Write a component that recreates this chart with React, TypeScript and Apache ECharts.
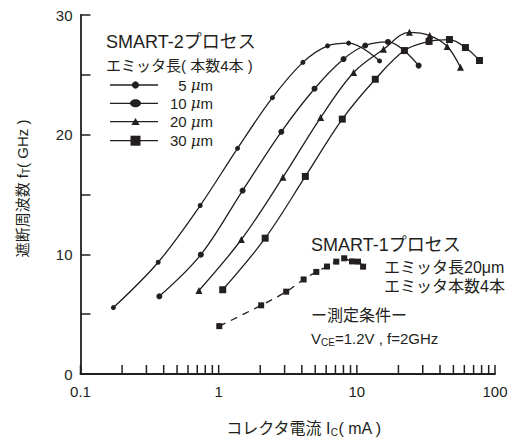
import React, { useEffect, useRef } from "react";
import * as echarts from "echarts";

const FONT = "'Liberation Sans', Arial, 'Noto Sans CJK JP', sans-serif";
const INK = "#231f20";

// axis ticks / labels
const xTickValues = [
  0.1, 0.2, 0.3, 0.4, 0.5, 0.6, 0.7, 0.8, 0.9,
  1, 2, 3, 4, 5, 6, 7, 8, 9,
  10, 20, 30, 40, 50, 60, 70, 80, 90, 100,
];

// SMART-2, emitter length 5 um
const s5x = [0.173, 0.365, 0.735, 1.37, 2.45, 4.07, 6.14, 8.72, 14.6];
const s5y = [5.55, 9.34, 14.08, 18.86, 23.09, 26.04, 27.42, 27.65, 26.16];
// 10 um
const s10x = [0.372, 0.743, 1.49, 2.84, 4.94, 8.02, 11.5, 16.8, 28.0];
const s10y = [6.49, 9.97, 15.33, 20.24, 23.84, 26.32, 27.45, 27.75, 25.77];
// 20 um
const s20x = [0.72, 1.46, 2.92, 5.47, 9.48, 15.6, 24.0, 33.7, 45.1, 56.2];
const s20y = [6.98, 11.24, 16.45, 21.43, 25.2, 27.14, 28.55, 28.28, 27.37, 25.63];
// 30 um
const s30x = [1.07, 2.17, 4.24, 7.85, 13.6, 22.1, 33.3, 46.8, 61.1, 77.2];
const s30y = [7.04, 11.35, 16.51, 21.3, 24.63, 27.03, 27.79, 27.95, 27.28, 26.2];
// SMART-1
const s1x = [1.01, 2.03, 3.08, 4.12, 5.09, 6.08, 7.1, 8.1, 9.23, 10.2, 11.1];
const s1y = [4.0, 5.74, 6.88, 7.9, 8.53, 8.98, 9.39, 9.67, 9.41, 9.39, 8.97];

const legendNums = ["5", "10", "20", "30"];

const zip = (xs: number[], ys: number[]) => xs.map((x, i) => [x, ys[i]]);

const richBase = {
  m: { fontSize: 16, lineHeight: 18, fontFamily: FONT, color: INK },
  s: { fontSize: 10, lineHeight: 10, verticalAlign: "bottom", fontFamily: FONT, color: INK },
};

function txt(x: number, y: number, text: string, size: number, align = "left", rich?: any) {
  return {
    type: "text",
    x,
    y,
    silent: true,
    style: {
      text,
      fontSize: size,
      fontFamily: FONT,
      fill: INK,
      align,
      verticalAlign: "middle",
      textAlign: align,
      textVerticalAlign: "middle",
      rich,
    },
  };
}

export default function App() {
  const ref = useRef<HTMLDivElement>(null);
  useEffect(() => {
    document.body.style.margin = "0";
    const chart = echarts.init(ref.current!, null, { renderer: "svg" });

    const lineStyle = { color: INK, width: 1.3 };
    const mk = (name: string, data: number[][], symbol: string, size: number, dashed = false) => ({
      name,
      type: "line",
      data,
      smooth: 0.35,
      symbol,
      symbolSize: size,
      showAllSymbol: true,
      silent: true,
      lineStyle: dashed ? { ...lineStyle, type: [7, 6] } : lineStyle,
      itemStyle: { color: INK },
      emphasis: { disabled: true },
      z: 3,
    });

    const rowY = [85, 103.3, 121.7, 140.7];
    const lx1 = 110, lx2 = 158, mx = 135.5;
    const legendEls: any[] = [];
    rowY.forEach((y, i) => {
      legendEls.push({
        type: "line",
        silent: true,
        shape: { x1: lx1, y1: y, x2: lx2, y2: y },
        style: { stroke: INK, lineWidth: 1.3 },
      });
      if (i === 0) legendEls.push({ type: "circle", silent: true, shape: { cx: mx, cy: y, r: 3.6 }, style: { fill: INK } });
      if (i === 1) legendEls.push({ type: "ellipse", silent: true, shape: { cx: mx, cy: y, rx: 5.5, ry: 4 }, style: { fill: INK } });
      if (i === 2)
        legendEls.push({
          type: "polygon",
          silent: true,
          shape: { points: [[mx - 4.2, y + 3.3], [mx + 4.2, y + 3.3], [mx, y - 3.8]] },
          style: { fill: INK },
        });
      if (i === 3) legendEls.push({ type: "rect", silent: true, shape: { x: mx - 5, y: y - 5, width: 10, height: 10 }, style: { fill: INK } });
      legendEls.push(
        txt(213, y, `{n|${legendNums[i]}} {u|μ}{n|m}`, 15, "right", {
          n: { fontSize: 15, fontFamily: FONT, color: INK },
          u: { fontSize: 15, fontFamily: "'DejaVu Serif', serif", fontStyle: "italic", color: INK },
        })
      );
    });

    const option: any = {
      animation: false,
      backgroundColor: "#fff",
      textStyle: { fontFamily: FONT, color: INK },
      grid: { left: 80.5, right: 20, top: 15, bottom: 65, containLabel: false },
      xAxis: {
        type: "log",
        logBase: 10,
        min: 0.1,
        max: 100,
        name: "{m|コレクタ電流 I}{s|C}{m|( mA )}",
        nameLocation: "middle",
        nameGap: 45,
        nameTextStyle: { rich: richBase, padding: [0, 0, 0, 32] },
        axisLine: { show: true, onZero: false, lineStyle: { color: INK, width: 1.8 } },
        axisTick: { show: false },
        minorTick: { show: false },
        axisLabel: { fontSize: 15, margin: 10, color: INK, fontFamily: FONT, formatter: (v: number) => String(v) },
        splitLine: { show: false },
      },
      yAxis: {
        type: "value",
        min: 0,
        max: 30,
        interval: 10,
        name: "{m|遮断周波数 f}{s|T}{m|( GHz )}",
        nameLocation: "middle",
        nameGap: 49,
        nameTextStyle: { rich: { ...richBase, m: { ...richBase.m, fontSize: 15 } }, padding: [0, 0, 0, 12] },
        axisLine: { show: true, onZero: false, lineStyle: { color: INK, width: 1.8 } },
        axisTick: { show: true, inside: true, length: 10, lineStyle: { color: INK, width: 1.5 } },
        minorTick: { show: true, splitNumber: 2, length: 10, lineStyle: { color: INK, width: 1.5 } },
        axisLabel: { fontSize: 15, margin: 8, color: INK, fontFamily: FONT },
        splitLine: { show: false },
      },
      series: [
        mk("5 μm", zip(s5x, s5y), "circle", 5),
        mk("10 μm", zip(s10x, s10y), "circle", 6),
        mk("20 μm", zip(s20x, s20y), "triangle", 7),
        mk("30 μm", zip(s30x, s30y), "rect", 7),
        mk("SMART-1", zip(s1x, s1y), "rect", 6, true),
        {
          // x-axis log ticks (major + minor), drawn inside the plot
          name: "xticks",
          type: "custom",
          silent: true,
          clip: false,
          data: xTickValues.map((v) => [v, 0]),
          renderItem: (_params: any, api: any) => {
            const p = api.coord([api.value(0), 0]);
            return {
              type: "line",
              shape: { x1: p[0], y1: p[1], x2: p[0], y2: p[1] - 9 },
              style: { stroke: INK, lineWidth: 1.5 },
            };
          },
          z: 2,
        },
      ],
      graphic: [
        txt(106, 42, "SMART-2プロセス", 18),
        txt(106, 65, "エミッタ長( 本数4本 )", 15),
        ...legendEls,
        txt(311, 245, "SMART-1プロセス", 18),
        txt(384, 267, "エミッタ長20μm", 16),
        txt(384, 286, "エミッタ本数4本", 16),
        txt(311, 315, "ー測定条件ー", 16),
        txt(311, 338, "{m|V}{s|CE}{m|=1.2V , f=2GHz}", 15, "left", {
          m: { fontSize: 15, lineHeight: 18, fontFamily: FONT, color: INK },
          s: { fontSize: 10, lineHeight: 10, verticalAlign: "bottom", fontFamily: FONT, color: INK },
        }),
      ],
    };
    chart.setOption(option);
    return () => chart.dispose();
  }, []);
  return <div ref={ref} style={{ width: 515, height: 442 }} />;
}
